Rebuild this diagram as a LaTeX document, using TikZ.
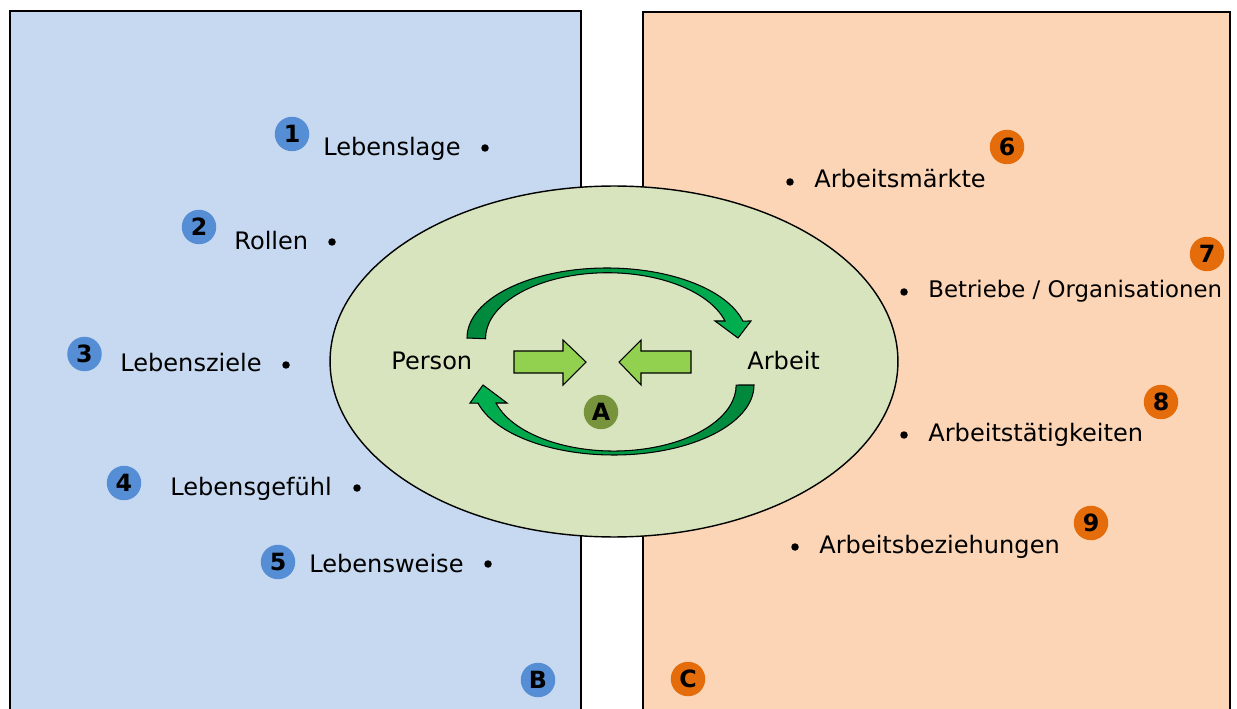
\documentclass[tikz,border=0pt]{standalone}
\usepackage{xcolor}
\usepackage{fontspec}
\setmainfont{DejaVu Sans}
\usepackage{tikz}
\usetikzlibrary{shapes.geometric, arrows.meta, positioning}

\definecolor{lifeblue}{RGB}{198,217,240}
\definecolor{workorange}{RGB}{251,213,181}
\definecolor{coregreen}{RGB}{215,228,189}
\definecolor{badgeblue}{RGB}{85,142,213}
\definecolor{badgeorange}{RGB}{228,108,10}
\definecolor{badgegreen}{RGB}{119,147,60}
\definecolor{pushgreen}{RGB}{146,208,80}
\definecolor{loopdark}{RGB}{0,135,60}
\definecolor{looplight}{RGB}{0,176,80}

\begin{document}
\begin{tikzpicture}[
    x=0.02cm, y=-0.02cm,
    panel/.style={draw, line width=1.1pt},
    badge/.style={circle, minimum size=0.69cm, inner sep=0pt, font=\fontsize{13.5}{15}\selectfont\bfseries},
    lbl/.style={anchor=base west, inner sep=0pt, font=\fontsize{13.7}{16}\selectfont},
    dot/.style={circle, fill=black, inner sep=0pt, minimum size=0.15cm},
    push/.style={draw, fill=pushgreen, line width=0.6pt},
    loop/.style={draw, line width=0.6pt}
]
\useasboundingbox (0,0) rectangle (1237,709);
\clip (0,0) rectangle (1237,709);

% Panels
\draw[panel, fill=lifeblue] (10,11) rectangle (581,730);
\draw[panel, fill=workorange] (643,12) rectangle (1230,730);

% Core
\node (core) [ellipse, draw, fill=coregreen, line width=0.8pt, minimum width=11.36cm, minimum height=7.02cm, inner sep=0pt] at (614,361.5) {};

% Loops
\filldraw[loop, left color=loopdark, right color=looplight]
  (467,338) arc[start angle=180, end angle=346, x radius=140, y radius=70]
  -- (751,321) -- (738,338) -- (715,321) -- (725,321)
  arc[start angle=344.4, end angle=180, x radius=122, y radius=66] -- cycle;
\filldraw[loop, left color=looplight, right color=loopdark]
  (754,385) arc[start angle=0, end angle=165, x radius=140.4, y radius=70]
  -- (470,403) -- (483,385) -- (507,403) -- (496,403)
  arc[start angle=164.2, end angle=0, x radius=122.4, y radius=66] -- cycle;

% Push arrows
\draw[push] (514,351) -- (563,351) -- (563,340) -- (586,362) -- (563,385) -- (563,373) -- (514,373) -- cycle;
\draw[push] (691,351) -- (641,351) -- (641,340) -- (619,362) -- (641,385) -- (641,373) -- (691,373) -- cycle;

\node (person) [lbl] at (391,370) {Person};
\node (arbeit) [lbl] at (747,370) {Arbeit};
\node (a) [badge, fill=badgegreen] at (601,412) {A};

% Left side
\node (b1) [badge, fill=badgeblue] at (292,134) {1};
\node (lage) [lbl] at (323,156) {Lebenslage};
\node (d1) [dot] at (485,148) {};
\node (b2) [badge, fill=badgeblue] at (199,227) {2};
\node (rollen) [lbl] at (234,250) {Rollen};
\node (d2) [dot] at (332,242) {};
\node (b3) [badge, fill=badgeblue] at (84.5,354) {3};
\node (ziele) [lbl] at (120,372) {Lebensziele};
\node (d3) [dot] at (286,365) {};
\node (b4) [badge, fill=badgeblue] at (124,483) {4};
\node (gefuehl) [lbl] at (170,495) {Lebensgefühl};
\node (d4) [dot] at (357,488) {};
\node (b5) [badge, fill=badgeblue] at (278,562) {5};
\node (weise) [lbl] at (309,572) {Lebensweise};
\node (d5) [dot] at (488,564) {};
\node (b) [badge, fill=badgeblue] at (538,680) {B};

% Right side
\node (b6) [badge, fill=badgeorange] at (1007,147) {6};
\node (maerkte) [lbl] at (814,188) {Arbeitsmärkte};
\node (d6) [dot] at (790,182) {};
\node (b7) [badge, fill=badgeorange] at (1207,254) {7};
\node (betriebe) [lbl, font=\fontsize{13}{16}\selectfont] at (928,298) {Betriebe / Organisationen};
\node (d7) [dot] at (904,292) {};
\node (b8) [badge, fill=badgeorange] at (1161,402) {8};
\node (taetig) [lbl] at (928,441) {Arbeitstätigkeiten};
\node (d8) [dot] at (904,435) {};
\node (b9) [badge, fill=badgeorange] at (1091,523) {9};
\node (bezieh) [lbl] at (819,553) {Arbeitsbeziehungen};
\node (d9) [dot] at (795,547) {};
\node (c) [badge, fill=badgeorange] at (688,679) {C};

\end{tikzpicture}
\end{document}
